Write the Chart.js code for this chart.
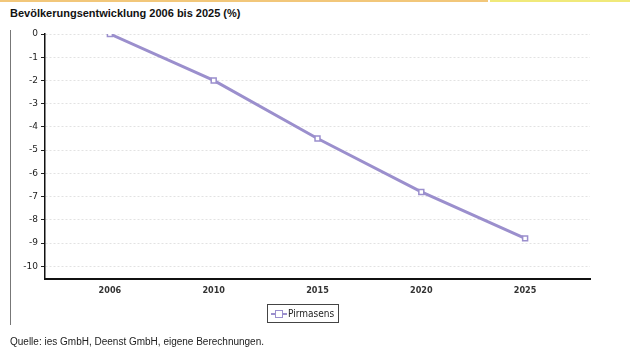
<!DOCTYPE html>
<html>
<head>
<meta charset="utf-8">
<script src="https://cdn.jsdelivr.net/npm/chart.js@4.4.0/dist/chart.umd.min.js"></script>
<style>
    body { margin: 0; background: #fff; width: 630px; height: 351px; position: relative; overflow: hidden; font-family: "Liberation Sans", Arial, sans-serif; }
    #topbar1 { position: absolute; left: 0; top: 0; width: 488px; height: 2px; background: #f2c77a; }
    #topbar2 { position: absolute; left: 490px; top: 0; width: 140px; height: 2px; background: #f0e97a; }
    #title { position: absolute; left: 10px; top: 7px; font-size: 11px; font-weight: bold; color: #111; }
    #leftline { position: absolute; left: 10px; top: 30px; width: 1px; height: 295px; background: #777; }
    #source { position: absolute; left: 10px; top: 336px; font-size: 10px; color: #222; }
    #chartWrap { position: absolute; left: 0; top: 0; width: 630px; height: 351px; }
    #legend { position: absolute; left: 267px; top: 304px; height: 17px; padding: 0 4px 0 3px; border: 1px solid #444; font-family: "DejaVu Sans Condensed", "DejaVu Sans", sans-serif; font-size: 10px; color: #222; line-height: 17px; white-space: nowrap; }
    #legend .icon { display: inline-block; position: relative; width: 16px; height: 8px; vertical-align: -1px; margin-right: 1px; }
    #legend .icon .ln { position: absolute; left: 0; top: 3px; width: 16px; height: 2px; background: #9b8fcd; }
    #legend .icon .sq { position: absolute; left: 4px; top: 0; width: 6px; height: 6px; border: 1px solid #9b8fcd; background: #fff; }
</style>
</head>
<body>
<div id="topbar1"></div>
<div id="topbar2"></div>
<div id="title">Bevölkerungsentwicklung 2006 bis 2025 (%)</div>
<div id="leftline"></div>
<div id="chartWrap"><canvas id="popChart"></canvas></div>
<div id="legend"><span class="icon"><span class="ln"></span><span class="sq"></span></span>Pirmasens</div>
<div id="source">Quelle: ies GmbH, Deenst GmbH, eigene Berechnungen.</div>

<script>
const years = ['2006', '2010', '2015', '2020', '2025'];
const pirmasens = [0, -2.0, -4.5, -6.8, -8.8];
const seriesName = 'Pirmasens';

document.addEventListener('DOMContentLoaded', function () {
    createPopulationChart();
});

function createPopulationChart() {
    const ctx = document.getElementById('popChart').getContext('2d');
    const points = pirmasens.map(function (v, i) { return { x: i, y: v }; });

    new Chart(ctx, {
        type: 'line',
        data: {
            datasets: [{
                label: seriesName,
                data: points,
                borderColor: '#9b8fcd',
                borderWidth: 3,
                pointStyle: 'rect',
                pointRadius: 3.5,
                pointBackgroundColor: '#fff',
                pointBorderColor: '#9b8fcd',
                pointBorderWidth: 1.5,
                fill: false,
                tension: 0
            }]
        },
        options: {
            responsive: true,
            maintainAspectRatio: false,
            animation: false,
            layout: {
                padding: { left: 0, right: 40, top: 34, bottom: 0 }
            },
            plugins: {
                legend: { display: false },
                tooltip: { enabled: false }
            },
            scales: {
                x: {
                    type: 'linear',
                    min: -0.625,
                    max: 4.625,
                    afterBuildTicks: function (s) {
                        s.ticks = years.map(function (y, i) { return { value: i }; });
                    },
                    afterFit: function (s) { s.height = 72; },
                    grid: { display: false, drawTicks: false },
                    border: { color: '#111', width: 2 },
                    ticks: {
                        padding: 6,
                        color: '#333',
                        font: { family: '"DejaVu Sans Condensed", "DejaVu Sans", sans-serif', size: 9, weight: 'bold' },
                        callback: function (value) { return years[value]; }
                    }
                },
                y: {
                    min: -10.55,
                    max: 0,
                    afterBuildTicks: function (s) {
                        s.ticks = s.ticks.filter(function (t) { return Number.isInteger(t.value); });
                    },
                    afterFit: function (s) { s.width = 45; },
                    grid: {
                        color: '#e2e2e2',
                        tickColor: '#222',
                        tickLength: 4,
                        tickBorderDash: [],
                        tickWidth: 1
                    },
                    border: { color: '#111', width: 1.5, dash: [2, 2] },
                    ticks: {
                        stepSize: 1,
                        padding: 3,
                        color: '#222',
                        font: { family: '"DejaVu Sans", sans-serif', size: 9 }
                    }
                }
            }
        }
    });
}
</script>
</body>
</html>
